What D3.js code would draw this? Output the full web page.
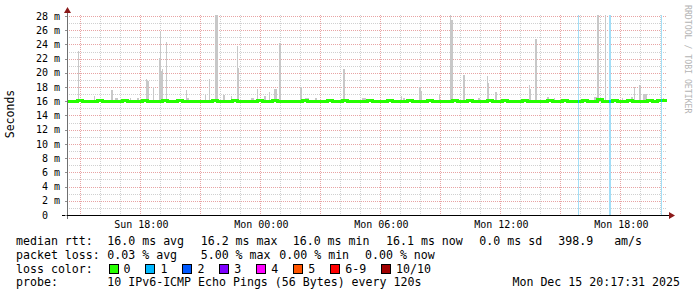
<!DOCTYPE html>
<html>
<head>
<meta charset="utf-8">
<script src="https://cdn.jsdelivr.net/npm/d3@7"></script>
<style>
  body { margin: 0; background: #fff; }
  svg text { font-family: "DejaVu Sans Mono", monospace; white-space: pre; }
</style>
</head>
<body>
<svg id="chart" width="697" height="297"></svg>
<script>
// time window (UTC), 30 hours
var timeStart = "2025-12-14 14:20";
var timeEnd = "2025-12-15 20:20";

// y ticks in ms
var yTicks = [0, 2, 4, 6, 8, 10, 12, 14, 16, 18, 20, 22, 24, 26, 28];

// median rtt (ms), one value every 15 minutes from timeStart
var medianStepMin = 15;
var medianValues = [
  16.0,16.0,16.1,16.0,16.0,16.0,16.1,16.0,15.9,16.0,
  16.0,16.1,16.0,16.0,16.0,16.1,16.0,16.0,16.0,16.1,
  16.0,16.0,16.1,16.0,16.0,16.0,15.9,16.0,16.0,16.1,
  16.0,16.0,16.0,16.1,16.0,16.0,16.0,16.0,16.1,16.0,
  16.0,16.1,16.0,16.0,15.9,16.0,16.0,16.1,16.0,16.0,
  16.0,16.0,16.1,16.0,16.0,16.1,16.0,16.0,16.0,16.0,
  16.1,16.0,16.0,16.0,16.1,16.0,16.0,16.0,16.1,16.0,
  16.0,16.0,16.1,16.0,16.0,16.0,16.0,16.1,16.0,16.0,
  16.1,16.0,16.0,16.0,16.1,16.0,16.0,16.1,16.0,16.0,
  16.0,16.1,16.0,16.0,16.0,16.0,16.1,16.0,16.0,16.1,
  16.0,16.0,16.0,16.1,16.0,16.0,16.2,16.0,16.0,16.1,
  16.0,16.0,16.1,16.0,16.0,16.0,16.1,16.0,16.1,16.1
];

// smoke (max rtt of the slowest pings) : start time, duration (min), max (ms)
var smokeTimes = [
  "2025-12-14 14:53","2025-12-14 15:41","2025-12-14 16:32","2025-12-14 16:44","2025-12-14 17:29",
  "2025-12-14 17:50","2025-12-14 18:17","2025-12-14 18:20","2025-12-14 18:38","2025-12-14 18:56",
  "2025-12-14 18:59","2025-12-14 19:02","2025-12-14 19:05","2025-12-14 19:17","2025-12-14 20:17",
  "2025-12-14 20:20","2025-12-14 21:14","2025-12-14 21:26","2025-12-14 21:44","2025-12-14 22:08",
  "2025-12-14 22:32","2025-12-14 22:50","2025-12-14 22:53","2025-12-14 23:32","2025-12-14 23:50",
  "2025-12-15 00:11","2025-12-15 00:26","2025-12-15 00:41","2025-12-15 00:56","2025-12-15 01:59",
  "2025-12-15 02:14","2025-12-15 02:44","2025-12-15 04:08","2025-12-15 05:05","2025-12-15 07:02",
  "2025-12-15 07:08","2025-12-15 07:56","2025-12-15 08:02","2025-12-15 08:56","2025-12-15 09:29",
  "2025-12-15 09:32","2025-12-15 10:08","2025-12-15 10:53","2025-12-15 11:20","2025-12-15 11:23",
  "2025-12-15 11:44","2025-12-15 13:26","2025-12-15 13:29","2025-12-15 13:44","2025-12-15 14:20",
  "2025-12-15 14:41","2025-12-15 16:41","2025-12-15 16:50","2025-12-15 17:14","2025-12-15 18:05",
  "2025-12-15 18:32","2025-12-15 18:41","2025-12-15 18:56","2025-12-15 19:08","2025-12-15 20:08"
];
var smokeSpans = [
  3,3,6,9,3, 6,3,6,3,3, 3,3,3,3,3, 6,3,3,9,6,
  3,3,3,9,3, 6,3,9,6,6, 12,6,6,12,3, 6,6,3,3,3,
  6,6,6,3,3, 6,3,3,6,6, 3,9,6,3,3, 6,3,6,12,3
];
var smokeMax = [
  23.1,16.7,17.6,16.4,16.5, 16.5,19.1,18.9,18.0,22.1,
  25.9,20.3,20.6,24.4,17.6, 16.5,16.9,19.2,28.1,16.9,
  16.7,23.8,20.7,16.5,17.7, 16.8,17.3,17.7,24.2,18.0,
  16.4,16.5,20.5,16.4,16.8, 16.5,18.0,17.4,17.0,28.1,
  27.4,19.7,16.5,19.6,18.6, 17.3,18.3,17.7,24.8,16.6,
  16.4,16.6,28.1,28.1,16.4, 16.6,18.0,18.3,17.0,16.4
];

// packet loss events: start time, duration (min), lost pings out of 10
var lossTimes = ["2025-12-15 15:53", "2025-12-15 17:26", "2025-12-15 20:02"];
var lossSpans = [3, 6, 3];
var lossCounts = [1, 1, 1];

// loss colour legend
var lossLabels = ["0", "1", "2", "3", "4", "5", "6-9", "10/10"];
var lossColors = ["#26ff00", "#00b8ff", "#0059ff", "#7e00ff", "#ff00ff", "#ff5500", "#ff0000", "#a10000"];
var lossBgColors = ["#c8ffb8", "#a3def7", "#a6c4ff", "#d4b0ff", "#ffb0ff", "#ffc4a8", "#ffb0b0", "#e0a0a0"];

// legend texts
var rttStats = ["16.0 ms avg", "16.2 ms max", "16.0 ms min", "16.1 ms now", "0.0 ms sd", "398.9   am/s"];
var lossStats = ["0.03 % avg", "5.00 % max", "0.00 % min", "0.00 % now"];
var probeText = "10 IPv6-ICMP Echo Pings (56 Bytes) every 120s";
var dateText = "Mon Dec 15 20:17:31 2025";

var svg = d3.select("#chart"),
    plotLeft = 67, plotRight = 667, plotTop = 15, plotBottom = 215;

var parse = d3.utcParse("%Y-%m-%d %H:%M");
var t0 = parse(timeStart), t1 = parse(timeEnd);

var x = d3.scaleUtc().domain([t0, t1]).range([plotLeft, plotRight]),
    y = d3.scaleLinear().domain([0, 28.14]).range([plotBottom, plotTop]);

function px(v) { return Math.round(v) + 0.5; }

// grid
var grid = svg.append("g").attr("shape-rendering", "crispEdges");

var hours = d3.utcHour.every(1).range(t0, t1);
grid.selectAll(".vgrid")
  .data(hours)
  .enter().append("line")
    .attr("x1", function(d) { return px(x(d)); })
    .attr("x2", function(d) { return px(x(d)); })
    .attr("y1", plotTop).attr("y2", plotBottom)
    .attr("stroke", function(d) { return d.getUTCHours() % 3 == 0 ? "#e8a4a4" : "#d0d0d0"; })
    .attr("stroke-dasharray", "1,1");

var msLines = d3.range(1, 29);
grid.selectAll(".hgrid")
  .data(msLines)
  .enter().append("line")
    .attr("x1", plotLeft).attr("x2", plotRight)
    .attr("y1", function(d) { return px(y(d)); })
    .attr("y2", function(d) { return px(y(d)); })
    .attr("stroke", function(d) { return d % 2 == 0 ? "#e8a4a4" : "#d0d0d0"; })
    .attr("stroke-dasharray", "1,1");

// loss background bars
var losses = lossTimes.map(function(t, i) {
  var s = parse(t);
  return {start: s, end: d3.utcMinute.offset(s, lossSpans[i]), n: lossCounts[i]};
});
function lossIndex(n) { return n >= 10 ? 7 : (n >= 6 ? 6 : n); }

svg.append("g").attr("shape-rendering", "crispEdges")
  .selectAll("rect")
  .data(losses)
  .enter().append("rect")
    .attr("x", function(d) { return Math.round(x(d.start)); })
    .attr("width", function(d) { return Math.max(1, Math.round(x(d.end)) - Math.round(x(d.start))); })
    .attr("y", plotTop).attr("height", plotBottom - plotTop)
    .attr("fill", function(d) { return lossBgColors[lossIndex(d.n)]; });

// median series
var median = medianValues.map(function(v, i) {
  return {t: d3.utcMinute.offset(t0, i * medianStepMin), v: v};
});
median.push({t: t1, v: medianValues[medianValues.length - 1]});
var bis = d3.bisector(function(d) { return d.t; }).right;
function medianAt(t) { return median[Math.max(0, bis(median, t) - 1)].v; }

// smoke
var smoke = smokeTimes.map(function(t, i) {
  var s = parse(t);
  return {start: s, end: d3.utcMinute.offset(s, smokeSpans[i]), max: smokeMax[i]};
});
svg.append("g").attr("shape-rendering", "crispEdges")
  .selectAll("rect")
  .data(smoke)
  .enter().append("rect")
    .attr("x", function(d) { return Math.round(x(d.start)); })
    .attr("width", function(d) { return Math.max(1, Math.round(x(d.end)) - Math.round(x(d.start))); })
    .attr("y", function(d) { return Math.round(y(d.max)); })
    .attr("height", function(d) { return Math.round(y(medianAt(d.start))) - Math.round(y(d.max)); })
    .attr("fill", "#c8c8c8");

// median line
var line = d3.line()
  .x(function(d) { return x(d.t); })
  .y(function(d) { return y(d.v); })
  .curve(d3.curveStepAfter);

svg.append("path")
  .datum(median)
  .attr("d", line)
  .attr("fill", "none")
  .attr("stroke", lossColors[0])
  .attr("stroke-width", 3)
  .attr("shape-rendering", "crispEdges");

svg.append("g").attr("shape-rendering", "crispEdges")
  .selectAll("line")
  .data(losses)
  .enter().append("line")
    .attr("x1", function(d) { return Math.round(x(d.start)); })
    .attr("x2", function(d) { return Math.max(Math.round(x(d.start)) + 1, Math.round(x(d.end))); })
    .attr("y1", function(d) { return y(medianAt(d.start)); })
    .attr("y2", function(d) { return y(medianAt(d.start)); })
    .attr("stroke", function(d) { return lossColors[lossIndex(d.n)]; })
    .attr("stroke-width", 3);

// axes
var axes = svg.append("g").attr("shape-rendering", "crispEdges");
axes.append("line")
  .attr("x1", plotLeft + 0.5).attr("x2", plotLeft + 0.5)
  .attr("y1", 11).attr("y2", plotBottom + 4)
  .attr("stroke", "#707070");
axes.append("line")
  .attr("x1", plotLeft - 5).attr("x2", plotRight + 4)
  .attr("y1", plotBottom + 0.5).attr("y2", plotBottom + 0.5)
  .attr("stroke", "#000");
axes.selectAll(".ytick")
  .data(yTicks)
  .enter().append("line")
    .attr("x1", plotLeft - 2).attr("x2", plotLeft)
    .attr("y1", function(d) { return px(y(d)); })
    .attr("y2", function(d) { return px(y(d)); })
    .attr("stroke", "#909090");
svg.append("path")
  .attr("d", "M" + (plotLeft - 3) + ",13L" + (plotLeft + 4) + ",13L" + (plotLeft + 0.5) + ",7Z")
  .attr("fill", "#8b1a1a");
svg.append("path")
  .attr("d", "M" + (plotRight + 2) + "," + (plotBottom - 3) + "L" + (plotRight + 2) + "," + (plotBottom + 4) + "L" + (plotRight + 8) + "," + (plotBottom + 0.5) + "Z")
  .attr("fill", "#8b1a1a");

// y tick labels
svg.append("g")
  .selectAll("text")
  .data(yTicks)
  .enter().append("text")
    .attr("x", 60)
    .attr("y", function(d) { return y(d) + 3.6; })
    .attr("text-anchor", "end")
    .attr("font-size", "10px")
    .attr("fill", "#000")
    .text(function(d) { return d == 0 ? "0  " : d + " m"; });

// x tick labels
var fmt = d3.utcFormat("%a %H:%M");
svg.append("g")
  .selectAll("text")
  .data(d3.utcHour.every(6).range(t0, t1))
  .enter().append("text")
    .attr("x", function(d) { return x(d) + 1; })
    .attr("y", 228)
    .attr("text-anchor", "middle")
    .attr("font-size", "10px")
    .attr("fill", "#000")
    .text(function(d) { return fmt(d); });

// axis title
svg.append("text")
  .attr("transform", "translate(14,114) rotate(-90)")
  .attr("text-anchor", "middle")
  .attr("font-size", "11.5px")
  .text("Seconds");

// watermark
svg.append("text")
  .attr("transform", "translate(685,5) rotate(90)")
  .attr("font-size", "8.2px")
  .attr("fill", "#b4b4b4")
  .text("RRDTOOL / TOBI OETIKER");

// legend
var lg = svg.append("g").attr("font-size", "11.6px").attr("fill", "#000");
var rows = [245, 258.8, 272.6, 286.4];

lg.append("text").attr("x", 16).attr("y", rows[0]).text("median rtt:");
var rttX = [107.3, 200.7, 292.7, 386, 479.3, 558.3];
lg.selectAll(".rtt").data(rttStats).enter().append("text")
  .attr("x", function(d, i) { return rttX[i]; }).attr("y", rows[0]).text(function(d) { return d; });

lg.append("text").attr("x", 16).attr("y", rows[1]).text("packet loss:");
var lossX = [107.3, 200.7, 279.3, 365];
lg.selectAll(".loss").data(lossStats).enter().append("text")
  .attr("x", function(d, i) { return lossX[i]; }).attr("y", rows[1]).text(function(d) { return d; });

lg.append("text").attr("x", 16).attr("y", rows[2]).text("loss color:");
var bx = 108.5;
lossLabels.forEach(function(lab, i) {
  lg.append("rect")
    .attr("x", bx + 0.5).attr("y", 264.5)
    .attr("width", 9).attr("height", 9)
    .attr("fill", lossColors[i])
    .attr("stroke", "#000").attr("stroke-width", 1)
    .attr("shape-rendering", "crispEdges");
  lg.append("text").attr("x", bx + 15).attr("y", rows[2]).text(lab);
  bx += 15 + lab.length * 6.95 + 15;
});

lg.append("text").attr("x", 16).attr("y", rows[3]).text("probe:");
lg.append("text").attr("x", 107.3).attr("y", rows[3]).text(probeText);
lg.append("text").attr("x", 680).attr("y", rows[3]).attr("text-anchor", "end").text(dateText);
</script>
</body>
</html>
